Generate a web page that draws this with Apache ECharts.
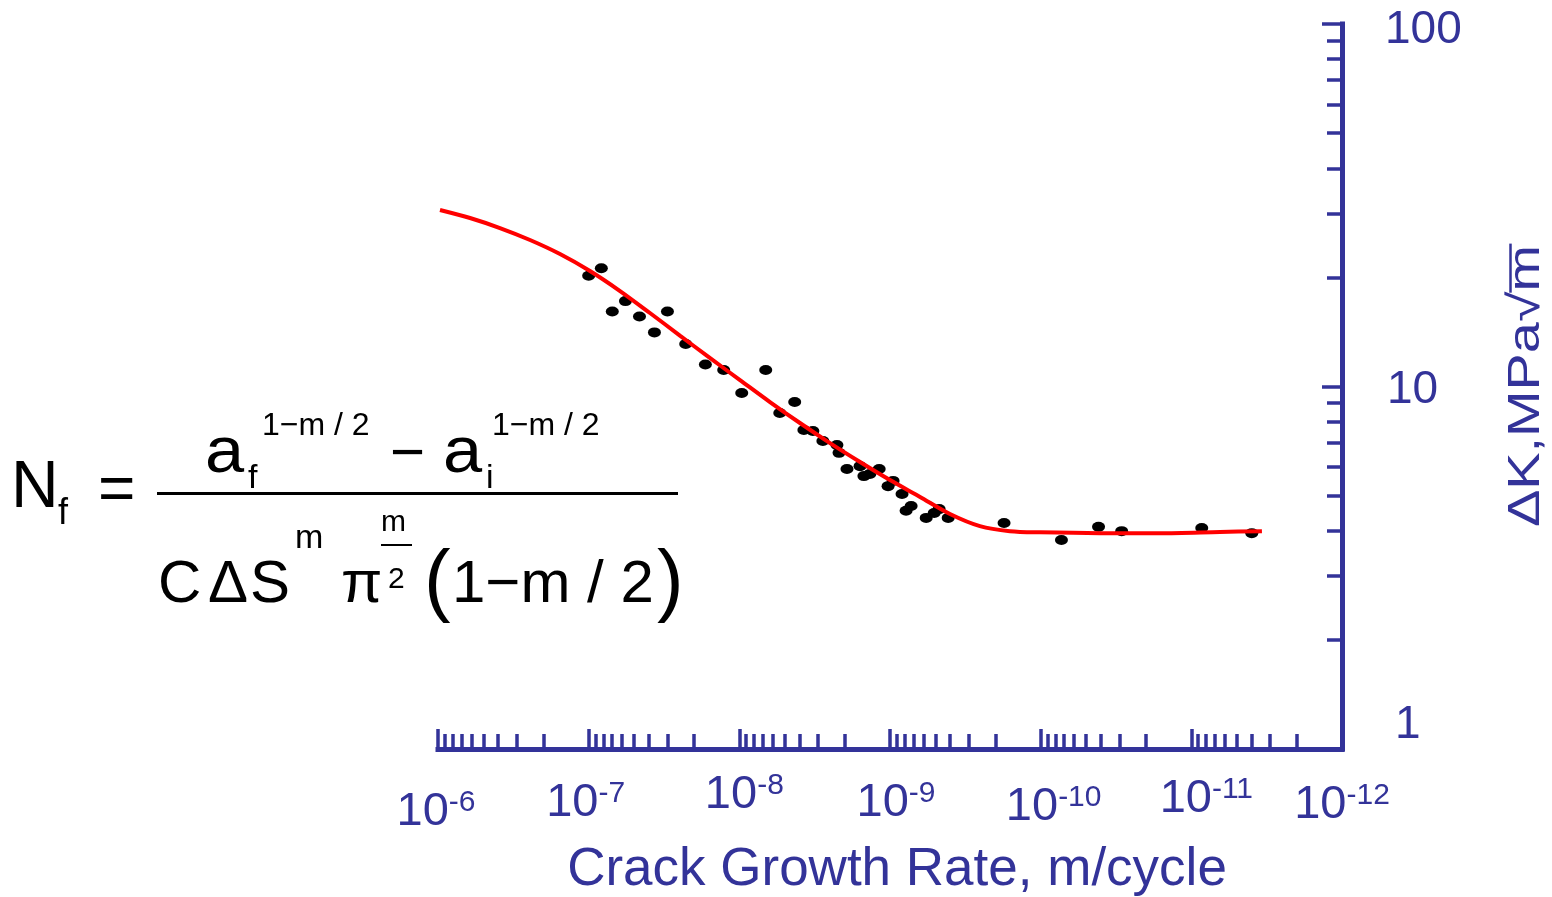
<!DOCTYPE html>
<html>
<head>
<meta charset="utf-8">
<script src="https://cdn.jsdelivr.net/npm/echarts@6/dist/echarts.min.js"></script>
<style>
html,body{margin:0;padding:0;background:#fff;}
#main{width:1552px;height:897px;}
</style>
</head>
<body>
<div id="main"></div>
<script>
// ---------- data ----------
const rateData = [1.00e-7, 8.24e-8, 6.97e-8, 5.70e-8, 4.60e-8, 3.66e-8, 3.00e-8, 2.27e-8, 1.68e-8, 1.27e-8,
  9.64e-9, 6.68e-9, 5.39e-9, 4.29e-9, 3.73e-9, 3.25e-9, 2.79e-9, 2.25e-9, 2.18e-9, 1.93e-9,
  1.58e-9, 1.49e-9, 1.36e-9, 1.18e-9, 1.03e-9, 9.54e-10, 8.32e-10, 7.82e-10, 7.24e-10, 5.75e-10,
  5.09e-10, 4.72e-10, 4.11e-10, 1.75e-10, 7.28e-11, 4.13e-11, 2.90e-11, 8.53e-12, 3.97e-12];
const dkData = [20.2, 21.2, 16.1, 17.2, 15.6, 14.1, 16.1, 13.1, 11.5, 11.1,
  9.6, 11.1, 8.45, 9.06, 7.59, 7.54, 7.07, 6.90, 6.56, 5.92,
  6.03, 5.66, 5.74, 5.92, 5.31, 5.49, 5.05, 4.54, 4.68, 4.34,
  4.48, 4.59, 4.34, 4.20, 3.77, 4.10, 3.99, 4.07, 3.94];

const curveRate = [9.70e-7, 6.13e-7, 3.88e-7, 2.45e-7, 1.55e-7, 9.80e-8, 6.19e-8, 3.92e-8, 2.48e-8, 1.57e-8,
  9.90e-9, 6.26e-9, 3.96e-9, 2.50e-9, 1.58e-9, 1.00e-9, 6.32e-10, 4.00e-10, 2.53e-10, 1.60e-10,
  1.01e-10, 4.04e-11, 1.61e-11, 6.45e-12, 3.40e-12];
const curveDK = [30.69, 29.16, 27.36, 25.36, 23.20, 20.83, 18.34, 15.95, 13.82, 11.99,
  10.42, 9.06, 7.93, 6.98, 6.19, 5.52, 4.96, 4.45, 4.12, 3.99,
  3.96, 3.94, 3.94, 3.97, 3.99];

const xTickValues = [1e-6, 1e-7, 1e-8, 1e-9, 1e-10, 1e-11, 1e-12];
const xTickBase = ['10', '10', '10', '10', '10', '10', '10'];
const xTickExps = ['-6', '-7', '-8', '-9', '-10', '-11', '-12'];
const yTickValues = [1, 10, 100];
const yTickLabels = ['1', '10', '100'];
const xAxisTitle = 'Crack Growth Rate, m/cycle';
const yAxisTitle = 'ΔK,MPa√m';

// ---------- styling ----------
const AX = '#333399';
const FONT = '"Liberation Sans", Arial, Helvetica, sans-serif';
// per-label nudges [dx, dy] to mimic the hand-placed labels of the original
const xLabelNudge = [[-2, 17], [-3, 8], [5, 0], [6, 8], [13, 12], [15, 4], [0, 10]];
const yLabelNudge = [[10, -24], [2, 4], [0, 6]];

const xMinor = [];
for (let e = -12; e < -6; e++) for (let k = 2; k <= 9; k++) xMinor.push(k * Math.pow(10, e));
const yMinor = [];
for (let e = 0; e < 2; e++) for (let k = 2; k <= 9; k++) yMinor.push(k * Math.pow(10, e));

const xRich = {};
xLabelNudge.forEach(function (nd, i) {
  const dx = nd[0], dy = nd[1];
  xRich['n' + i] = {fontSize: 47, lineHeight: 52, fontFamily: FONT, color: AX, verticalAlign: 'middle',
    padding: [2 * dy, 0, 0, dx > 0 ? 2 * dx : 0]};
  xRich['s' + i] = {fontSize: 30, lineHeight: 52, fontFamily: FONT, color: AX, verticalAlign: 'middle',
    padding: [2 * dy, dx < 0 ? -2 * dx : 0, 19, 0]};
});
const yRich = {};
yLabelNudge.forEach(function (nd, i) {
  const dx = nd[0], dy = nd[1];
  yRich['y' + i] = {fontSize: 46, lineHeight: 48, fontFamily: FONT, color: AX,
    padding: [dy > 0 ? 2 * dy : 0, 0, dy < 0 ? -2 * dy : 0, dx]};
});

function idxOf(arr, v) {
  let best = 0, bd = Infinity;
  arr.forEach(function (a, i) {
    const d = Math.abs(Math.log10(a) - Math.log10(v));
    if (d < bd) { bd = d; best = i; }
  });
  return best;
}

// formula (annotation text)
function T(text, x, bl, fs, sx) {
  return {type: 'text', x: x, y: bl - 0.3465 * fs, z: 100, scaleX: sx || 1,
    style: {text: text, fontSize: fs, fontFamily: FONT, fill: '#000', align: 'left', verticalAlign: 'middle'}};
}
function R(x1, x2, y, h) {
  return {type: 'rect', z: 100, shape: {x: x1, y: y, width: x2 - x1, height: h}, style: {fill: '#000'}};
}
const formula = [
  T('N', 11, 512, 66),
  T('f', 58, 527, 36),
  T('=', 98, 515, 64),
  R(157, 678, 492, 3),
  T('a', 205, 477, 64, 1.1),
  T('f', 248, 490, 34),
  T('1\u2212m / 2', 262, 437, 32),
  T('\u2212', 390, 476, 60),
  T('a', 443, 477, 64, 1.1),
  T('i', 486, 490, 34),
  T('1\u2212m / 2', 492, 437, 32),
  T('C', 158, 606, 60),
  T('\u0394', 208, 606, 60),
  T('S', 250, 606, 60),
  T('m', 295, 550, 34),
  T('\u03c0', 341, 606, 60),
  T('m', 381, 533, 30),
  R(381, 412, 544, 2),
  T('2', 388, 590, 30),
  T('(', 424, 612, 80),
  T('1\u2212m / 2', 452, 606, 60),
  T(')', 657, 612, 80)
];

// y-axis title with the square-root bar
const mctx = document.createElement('canvas').getContext('2d');
mctx.font = '44px "Liberation Sans"';
const wAll = mctx.measureText(yAxisTitle).width;
const wM = mctx.measureText('m').width;
const yTitle = {
  type: 'group', x: 1527, y: 386, rotation: Math.PI / 2, scaleX: 1.27, z: 100,
  children: [
    {type: 'text', x: 0, y: 0, style: {text: yAxisTitle, fontSize: 44, fontFamily: FONT, fill: AX, align: 'center', verticalAlign: 'middle'}},
    {type: 'line', shape: {x1: wAll / 2 - wM - 1, y1: -16.5, x2: wAll / 2 + 1, y2: -16.5}, style: {stroke: AX, lineWidth: 2.5}}
  ]
};

const chart = echarts.init(document.getElementById('main'), null, {renderer: 'canvas'});
const option = {
  animation: false,
  backgroundColor: '#ffffff',
  grid: {left: 438, right: 210, top: 24, bottom: 148, containLabel: false, outerBoundsMode: 'none'},
  xAxis: [
    {
      type: 'log', logBase: 10, inverse: true, min: 1e-12, max: 1e-6, position: 'bottom', gridIndex: 0,
      axisLine: {show: true, lineStyle: {color: AX, width: 5, cap: 'square'}},
      axisTick: {show: true, inside: true, length: 20, customValues: xTickValues, lineStyle: {color: AX, width: 3.5}},
      minorTick: {show: false}, splitLine: {show: false}, minorSplitLine: {show: false},
      axisLabel: {
        show: true, customValues: xTickValues, margin: 20, showMinLabel: true, showMaxLabel: true,
        hideOverlap: false,
        formatter: function (v) {
          const i = idxOf(xTickValues, v);
          return '{n' + i + '|' + xTickBase[i] + '}{s' + i + '|' + xTickExps[i] + '}';
        },
        rich: xRich
      },
      name: xAxisTitle, nameLocation: 'middle', nameGap: 95,
      nameTextStyle: {fontSize: 53, fontFamily: FONT, color: AX, padding: [0, 0, 0, 14]}
    },
    {
      type: 'log', logBase: 10, inverse: true, min: 1e-12, max: 1e-6, position: 'bottom', gridIndex: 0,
      axisLine: {show: false},
      axisTick: {show: true, inside: true, length: 15, customValues: xMinor, lineStyle: {color: AX, width: 3.5}},
      axisLabel: {show: false}, splitLine: {show: false}, minorTick: {show: false}
    }
  ],
  yAxis: [
    {
      type: 'log', logBase: 10, min: 1, max: 100, position: 'right', gridIndex: 0,
      axisLine: {show: true, lineStyle: {color: AX, width: 5, cap: 'square'}},
      axisTick: {show: true, inside: true, length: 20, customValues: yTickValues, lineStyle: {color: AX, width: 3.5}},
      minorTick: {show: false}, splitLine: {show: false}, minorSplitLine: {show: false},
      axisLabel: {
        show: true, customValues: yTickValues, margin: 43, showMinLabel: true, showMaxLabel: true,
        formatter: function (v) {
          const i = idxOf(yTickValues, v);
          return '{y' + i + '|' + yTickLabels[i] + '}';
        },
        rich: yRich
      }
    },
    {
      type: 'log', logBase: 10, min: 1, max: 100, position: 'right', gridIndex: 0,
      axisLine: {show: false},
      axisTick: {show: true, inside: true, length: 15, customValues: yMinor, lineStyle: {color: AX, width: 3.5}},
      axisLabel: {show: false}, splitLine: {show: false}, minorTick: {show: false}
    }
  ],
  series: [
    {
      type: 'scatter', xAxisIndex: 0, yAxisIndex: 0,
      data: rateData.map(function (r, i) { return [r, dkData[i]]; }),
      symbol: 'circle', symbolSize: [13, 10],
      itemStyle: {color: '#000000', opacity: 1}, z: 2
    },
    {
      type: 'line', xAxisIndex: 0, yAxisIndex: 0,
      data: curveRate.map(function (r, i) { return [r, curveDK[i]]; }),
      smooth: 0.3, symbol: 'none', lineStyle: {color: '#ff0000', width: 4}, z: 3
    }
  ],
  graphic: formula.concat([yTitle])
};
chart.setOption(option);
</script>
</body>
</html>
